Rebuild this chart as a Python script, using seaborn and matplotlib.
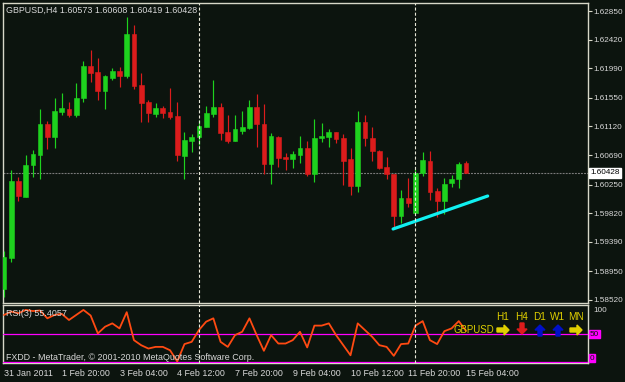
import numpy as np
import pandas as pd
import matplotlib
matplotlib.use("Agg")
import matplotlib.pyplot as plt
from matplotlib.patches import FancyArrow
from matplotlib.transforms import IdentityTransform
import seaborn as sns

# ---------------- data ----------------
symbol_title = "GBPUSD,H4"
opens = [1.58685, 1.59149, 1.60302, 1.60063, 1.60542, 1.60692, 1.61157, 1.60962, 1.61337, 1.61382,
         1.61292, 1.61546, 1.62026, 1.61936, 1.61651, 1.61846, 1.61951, 1.61876, 1.62506, 1.61741,
         1.61487, 1.61307, 1.61397, 1.61337, 1.61277, 1.60677, 1.60902, 1.60962, 1.61112, 1.61307,
         1.61412, 1.61037, 1.60902, 1.61052, 1.61097, 1.61412, 1.61157, 1.60557, 1.60962, 1.60662,
         1.60632, 1.60692, 1.60797, 1.60407, 1.60947, 1.60962, 1.61037, 1.60947, 1.60632, 1.60227,
         1.61187, 1.60947, 1.60752, 1.60512, 1.60407, 1.59779, 1.60048, 1.59824, 1.60422, 1.60602,
         1.60152, 1.60003, 1.60272, 1.60332, 1.60573]
highs = [1.59254, 1.60467, 1.60362, 1.60692, 1.60767, 1.61382, 1.61202, 1.61546, 1.61621, 1.61487,
         1.61771, 1.62101, 1.62266, 1.62146, 1.61891, 1.61996, 1.62011, 1.62760, 1.62640, 1.61921,
         1.61516, 1.61472, 1.61427, 1.61696, 1.61487, 1.61037, 1.61007, 1.61217, 1.61427, 1.61816,
         1.61472, 1.61292, 1.61292, 1.61352, 1.61516, 1.61606, 1.61457, 1.61022, 1.60977, 1.60722,
         1.60752, 1.60977, 1.60902, 1.61232, 1.61172, 1.61082, 1.61037, 1.61007, 1.60797, 1.61352,
         1.61292, 1.61112, 1.60767, 1.60662, 1.60410, 1.60167, 1.60347, 1.60482, 1.60737, 1.60752,
         1.60197, 1.60347, 1.60392, 1.60587, 1.60608]
lows = [1.58565, 1.59089, 1.60003, 1.60063, 1.60362, 1.60332, 1.60782, 1.60797, 1.61292, 1.61262,
        1.61262, 1.61487, 1.61786, 1.61516, 1.61382, 1.61816, 1.61711, 1.61846, 1.61681, 1.61187,
        1.61187, 1.61262, 1.61247, 1.61232, 1.60602, 1.60332, 1.60737, 1.60842, 1.61112, 1.61262,
        1.60917, 1.60872, 1.60902, 1.61007, 1.61082, 1.60812, 1.60407, 1.60257, 1.60512, 1.60467,
        1.60497, 1.60572, 1.60377, 1.60287, 1.60887, 1.60812, 1.60872, 1.60242, 1.60093, 1.60137,
        1.60827, 1.60602, 1.60482, 1.60332, 1.59584, 1.59674, 1.59913, 1.59824, 1.60377, 1.60018,
        1.59764, 1.59809, 1.60212, 1.60197, 1.60419]
closes = [1.59164, 1.60302, 1.60078, 1.60542, 1.60707, 1.61157, 1.60962, 1.61352, 1.61397, 1.61292,
          1.61546, 1.62026, 1.61921, 1.61651, 1.61876, 1.61951, 1.61876, 1.62506, 1.61726, 1.61472,
          1.61322, 1.61397, 1.61322, 1.61262, 1.60692, 1.60917, 1.60962, 1.61127, 1.61322, 1.61412,
          1.61022, 1.60902, 1.61082, 1.61112, 1.61412, 1.61157, 1.60557, 1.60977, 1.60647, 1.60632,
          1.60707, 1.60797, 1.60407, 1.60947, 1.60977, 1.61037, 1.60932, 1.60602, 1.60227, 1.61187,
          1.60947, 1.60752, 1.60497, 1.60407, 1.59779, 1.60048, 1.59973, 1.60422, 1.60617, 1.60137,
          1.60003, 1.60257, 1.60332, 1.60557, 1.60428]
rsi_values = [84, 90, 87, 93, 91, 92, 78, 84, 86, 75,
              84, 93, 83, 51, 63, 69, 60, 89, 39, 30,
              24, 27, 27, 21, 1, 32, 36, 57, 72, 78,
              36, 27, 48, 54, 78, 48, 20, 48, 33, 33,
              39, 54, 26, 65, 65, 69, 48, 30, 12, 69,
              57, 45, 30, 27, 11, 32, 33, 65, 73, 39,
              32, 55, 60, 73, 55.4057]
rsi_label = "RSI(3) 55.4057"
rsi_levels = [50, 0]
time_tick_bars = [0, 8, 16, 24, 32, 40, 48, 56, 64]
time_tick_labels = ["31 Jan 2011", "1 Feb 20:00", "3 Feb 04:00", "4 Feb 12:00", "7 Feb 20:00",
                    "9 Feb 04:00", "10 Feb 12:00", "11 Feb 20:00", "15 Feb 04:00"]
price_ticks = [1.62850, 1.62420, 1.61990, 1.61550, 1.61120, 1.60690, 1.60250,
               1.59820, 1.59390, 1.58950, 1.58520]
separator_bars = [27, 57]
trend_bars = [53.9, 67.0]
trend_prices = [1.59584, 1.60078]
last_price = 1.60428
tf_names = ["H1", "H4", "D1", "W1", "MN"]
tf_signals = ["flat", "down", "up", "up", "flat"]
copyright_text = "FXDD - MetaTrader, \u00a9 2001-2010 MetaQuotes Software Corp."

# ---------------- style ----------------
BG = "#0c140e"
FRAME = "#d8d8c8"
TXT = "#d8d8d8"
GREEN = "#1ed21e"
RED = "#dc1c1c"
RSI_C = "#ff4a12"
MAG = "#ff00ff"
YEL = "#e0d000"
BLUE = "#0010c8"

sns.set_style("dark", rc={"axes.facecolor": BG, "figure.facecolor": BG,
                          "axes.grid": False, "axes.edgecolor": FRAME})
plt.rcParams["font.family"] = ["Liberation Sans", "DejaVu Sans"]
plt.rcParams["lines.scale_dashes"] = False
FS = 6.4
FS_P = 5.9

W, H = 625, 382
fig = plt.figure(figsize=(6.25, 3.82), dpi=100)
fig.patch.set_facecolor(BG)

def fx(px):
    return px / W

def fy(py):
    return 1 - py / H

ax = fig.add_axes([fx(3), fy(303), fx(588) - fx(3), fy(3) - fy(303)])
ax2 = fig.add_axes([fx(3), fy(363), fx(588) - fx(3), fy(305) - fy(363)], sharex=ax)
for a in (ax, ax2):
    a.set_facecolor(BG)
    a.grid(False)
    for s in a.spines.values():
        s.set_color(FRAME)
        s.set_linewidth(1.0)

df = pd.DataFrame({"bar": np.arange(len(opens)), "open": opens, "high": highs,
                   "low": lows, "close": closes, "rsi": rsi_values})
up = df["close"] >= df["open"]
cols = np.where(up, GREEN, RED)

# candles
ax.vlines(df["bar"], df["low"], df["high"], colors=cols, linewidth=0.85, zorder=3)
body_bot = np.minimum(df["open"], df["close"])
body_h = np.maximum((df["close"] - df["open"]).abs(), 0.00007)
ax.bar(df["bar"], body_h, bottom=body_bot, width=0.66, color=cols,
       edgecolor=cols, linewidth=0.4, zorder=4)

# current price line
ax.axhline(last_price, color="#7a7a7a", linewidth=0.8, dashes=(1.4, 0.8), zorder=2)

# trend line
trend_df = pd.DataFrame({"bar": trend_bars, "price": trend_prices})
sns.lineplot(data=trend_df, x="bar", y="price", ax=ax, color="#10f0f0",
             linewidth=2.3, zorder=5, legend=False)

# period separators
for b in separator_bars:
    for a in (ax, ax2):
        a.axvline(b, color="#e8e8d8", linewidth=0.8, dashes=(2.2, 1.5), zorder=6)

ax.set_xlim(-0.14, 80.9)
ax.set_ylim(1.58475, 1.62970)
ax.yaxis.tick_right()
ax.set_yticks(price_ticks)
ax.set_yticklabels([f"{p:.5f}" for p in price_ticks])
ax.tick_params(axis="y", colors=FRAME, labelcolor=TXT, length=3, width=0.8,
               pad=1.2, labelsize=FS_P, direction="out")
ax.tick_params(axis="x", bottom=False, labelbottom=False)
ax.set_xlabel("")
ax.set_ylabel("")

# RSI panel
sns.lineplot(data=df, x="bar", y="rsi", ax=ax2, color=RSI_C, linewidth=1.3,
             zorder=4, legend=False)
for lv in rsi_levels:
    ax2.axhline(lv, color=MAG, linewidth=0.9, zorder=3)
ax2.set_ylim(-1.8, 101.8)
ax2.set_yticks([])
ax2.set_xticks(time_tick_bars)
ax2.set_xticklabels(time_tick_labels, ha="left")
ax2.tick_params(axis="x", colors=FRAME, labelcolor=TXT, length=3, width=0.8,
                pad=1, labelsize=FS, direction="out")
ax2.set_xlabel("")
ax2.set_ylabel("")

# texts
fig.text(fx(6), fy(10), symbol_title + " " + " ".join(
    f"{v:.5f}" for v in (opens[-1], highs[-1], lows[-1], closes[-1])),
    color=TXT, fontsize=FS, va="center", ha="left")
fig.text(fx(6), fy(314), rsi_label, color=TXT, fontsize=FS, va="center", ha="left", zorder=10)
fig.text(fx(6), fy(357), copyright_text, color=TXT, fontsize=FS, va="center", ha="left", zorder=10)

fig.text(fx(590), fy(173), f"{last_price:.5f}", color="black", fontsize=FS_P, va="center",
         ha="left", bbox=dict(boxstyle="square,pad=0.15", fc="white", ec="white"))
fig.text(fx(593), fy(310), "100", color=TXT, fontsize=FS_P, va="center", ha="left")
fig.text(fx(590), fy(334), "50", color=BG, fontsize=FS_P, va="center", ha="left",
         bbox=dict(boxstyle="square,pad=0.1", fc=MAG, ec=MAG))
fig.text(fx(590), fy(358), "0", color=BG, fontsize=FS_P, va="center", ha="left",
         bbox=dict(boxstyle="square,pad=0.1", fc=MAG, ec=MAG))

# multi timeframe indicator
tf_x = [503, 522, 540, 558, 576]
sig_cols = {"flat": YEL, "down": RED, "up": BLUE}
for name, sig, xx in zip(tf_names, tf_signals, tf_x):
    fig.text(fx(xx), fy(317), name, color=YEL, fontsize=FS + 0.8, ha="center", va="center")
    c = sig_cols[sig]
    if sig == "flat":
        x0, y0, dx, dy = xx - 6, H - 330, 12, 0
    elif sig == "down":
        x0, y0, dx, dy = xx, H - 323, 0, -11
    else:
        x0, y0, dx, dy = xx, H - 336, 0, 11
    arr = FancyArrow(x0, y0, dx, dy, width=4, head_width=10, head_length=5,
                     length_includes_head=True, color=c, transform=IdentityTransform())
    fig.add_artist(arr)
fig.text(fx(474), fy(330), "GBPUSD", color=YEL, fontsize=FS + 0.5, ha="center", va="center")

fig.savefig("out.png", dpi=100, facecolor=BG)
